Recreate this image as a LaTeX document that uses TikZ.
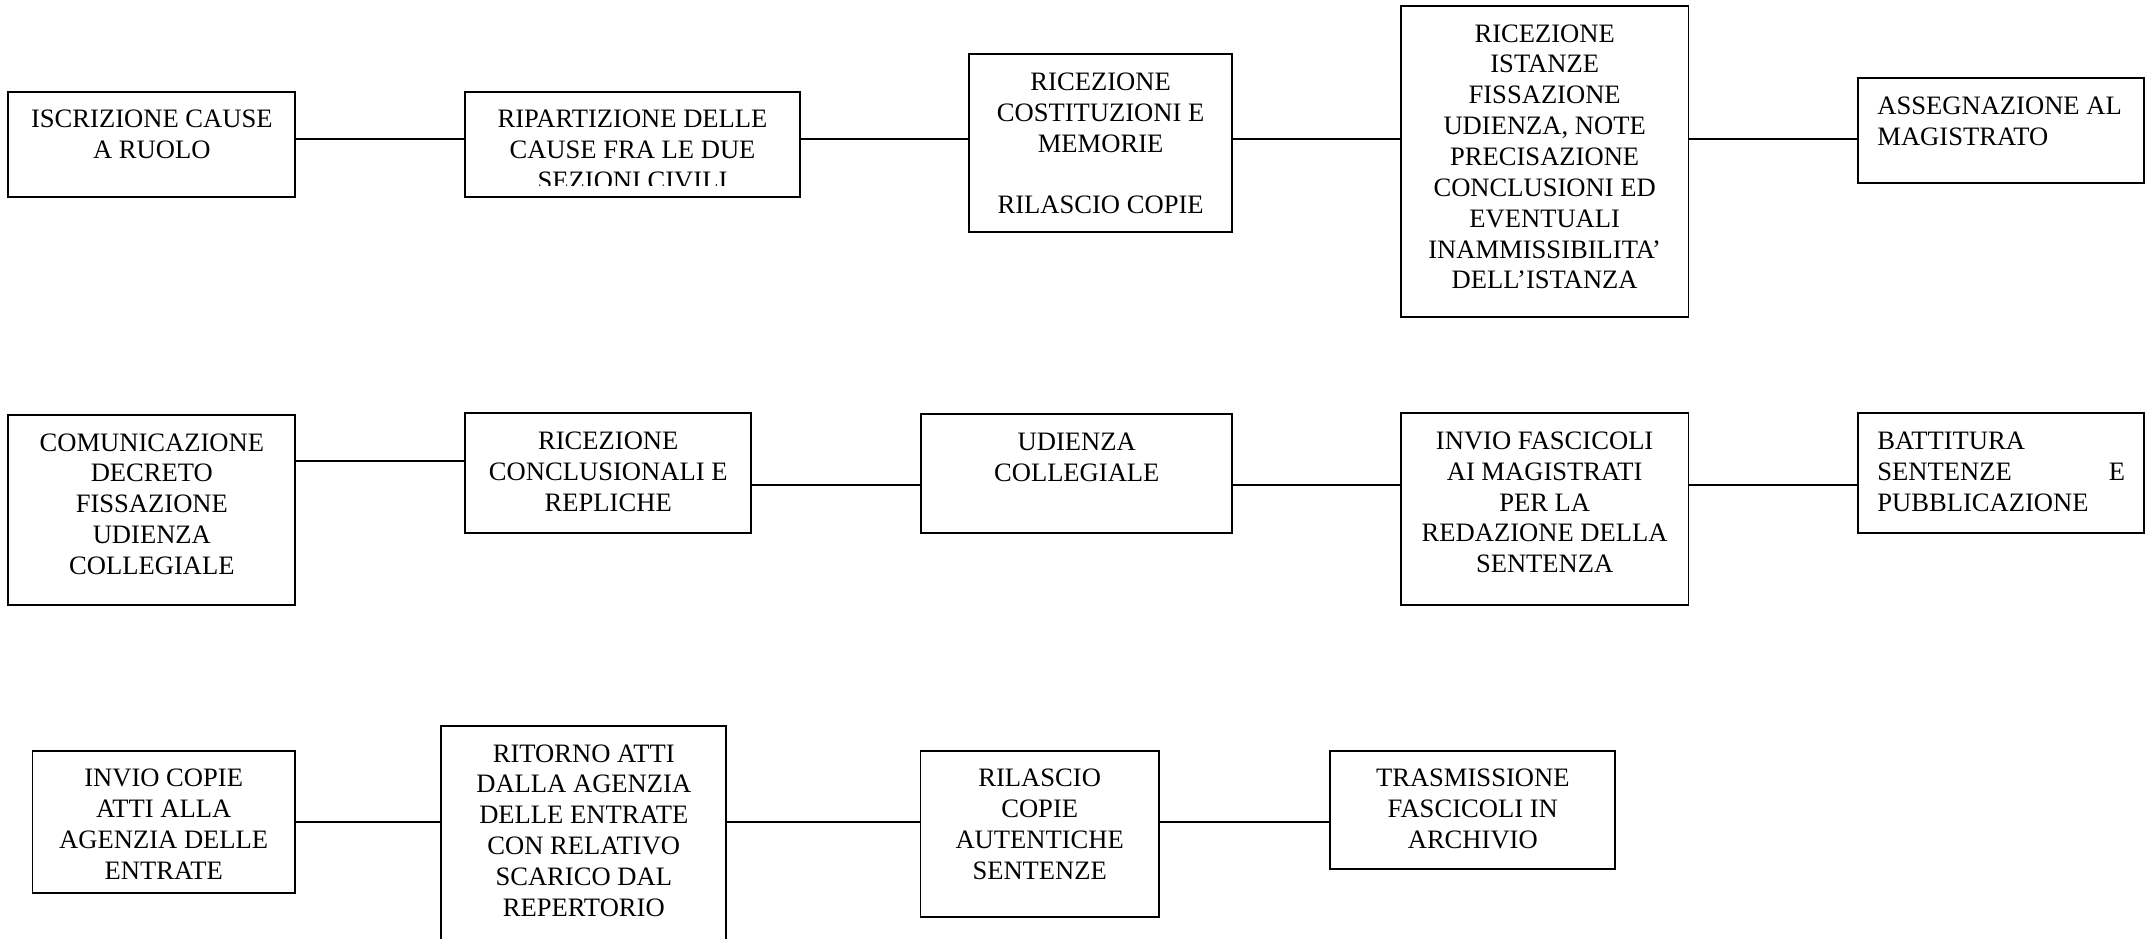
\documentclass[tikz,border=0pt]{standalone}
\usepackage{fontspec}
\setmainfont{Liberation Serif}
\usepackage{tikz}
\newcommand{\boxtext}[4][\centering]{%
  \parbox[t][\dimexpr #3pt-21.2pt\relax][t]{\dimexpr #2pt-28pt\relax}{#1\strut #4}}
\tikzset{
  box/.style={draw, line width=1.4pt, inner xsep=14pt, inner ysep=10.6pt, outer sep=0pt,
    anchor=north west, font=\fontsize{19.4pt}{22.5pt}\selectfont},
  link/.style={line width=1.4pt}
}
\begin{document}
\begin{tikzpicture}[x=1pt,y=-1pt]
      \useasboundingbox (0,0) rectangle (1568,685);
      \coordinate (l1) at (0,101.4);
      \coordinate (l2a) at (0,336.1);
      \coordinate (l2) at (0,353.6);
      \coordinate (l3) at (0,599.5);
      \node [box] (b1) at (6.1,66.9) {\boxtext{209.4}{76.6}{ISCRIZIONE CAUSE\\A RUOLO}};
      \node [box] (b2) at (339.4,66.9) {\boxtext{244.2}{76.6}{RIPARTIZIONE DELLE\\CAUSE FRA LE DUE\\SEZIONI CIVILI}};
      \fill [white] ([shift={(0.8,-7.8)}]b2.south west) rectangle ([shift={(-0.8,-0.8)}]b2.south east);
      \node [box] (b3) at (706.9,39.6) {\boxtext{192.3}{129.4}{RICEZIONE\\COSTITUZIONI E\\MEMORIE\\[22.5pt]RILASCIO COPIE}};
      \node [box] (b4) at (1022.1,4.4) {\boxtext{209.9}{226.7}{RICEZIONE\\ISTANZE\\FISSAZIONE\\UDIENZA, NOTE\\PRECISAZIONE\\CONCLUSIONI ED\\EVENTUALI\\INAMMISSIBILITA’\\DELL’ISTANZA}};
      \node [box] (b5) at (1355.8,57.1) {\boxtext[\raggedright]{208.7}{76.7}{ASSEGNAZIONE AL\\MAGISTRATO}};
      \node [box] (c1) at (6.1,302.8) {\boxtext{209.4}{138.6}{COMUNICAZIONE\\DECRETO\\FISSAZIONE\\UDIENZA\\COLLEGIALE}};
      \node [box] (c2) at (339.4,301.6) {\boxtext{208.8}{87.1}{RICEZIONE\\CONCLUSIONALI E\\REPLICHE}};
      \node [box] (c3) at (672.1,302.4) {\boxtext{227.1}{86.3}{UDIENZA\\COLLEGIALE}};
      \node [box] (c4) at (1022.1,301.6) {\boxtext{209.9}{139.8}{INVIO FASCICOLI\\AI MAGISTRATI\\PER LA\\REDAZIONE DELLA\\SENTENZA}};
      \node [box] (c5) at (1355.8,301.6) {\boxtext[\raggedright]{208.7}{87.1}{BATTITURA\\SENTENZE\hfill E\\PUBBLICAZIONE}};
      \node [box] (d1) at (23.7,547.7) {\boxtext{191.5}{103.7}{INVIO COPIE\\ATTI ALLA\\AGENZIA DELLE\\ENTRATE}};
      \node [box] (d2) at (321.9,529.7) {\boxtext{208.1}{170}{RITORNO ATTI\\DALLA AGENZIA\\DELLE ENTRATE\\CON RELATIVO\\SCARICO DAL\\REPERTORIO}};
      \node [box] (d3) at (671.6,547.7) {\boxtext{174}{121.6}{RILASCIO\\COPIE\\AUTENTICHE\\SENTENZE}};
      \node [box] (d4) at (970.6,547.7) {\boxtext{208}{86.6}{TRASMISSIONE\\FASCICOLI IN\\ARCHIVIO}};
      \draw [link] (b1.east |- l1) -- (b2.west |- l1);
      \draw [link] (b2.east |- l1) -- (b3.west |- l1);
      \draw [link] (b3.east |- l1) -- (b4.west |- l1);
      \draw [link] (b4.east |- l1) -- (b5.west |- l1);
      \draw [link] (c1.east |- l2a) -- (c2.west |- l2a);
      \draw [link] (c2.east |- l2) -- (c3.west |- l2);
      \draw [link] (c3.east |- l2) -- (c4.west |- l2);
      \draw [link] (c4.east |- l2) -- (c5.west |- l2);
      \draw [link] (d1.east |- l3) -- (d2.west |- l3);
      \draw [link] (d2.east |- l3) -- (d3.west |- l3);
      \draw [link] (d3.east |- l3) -- (d4.west |- l3);
\end{tikzpicture}
\end{document}
